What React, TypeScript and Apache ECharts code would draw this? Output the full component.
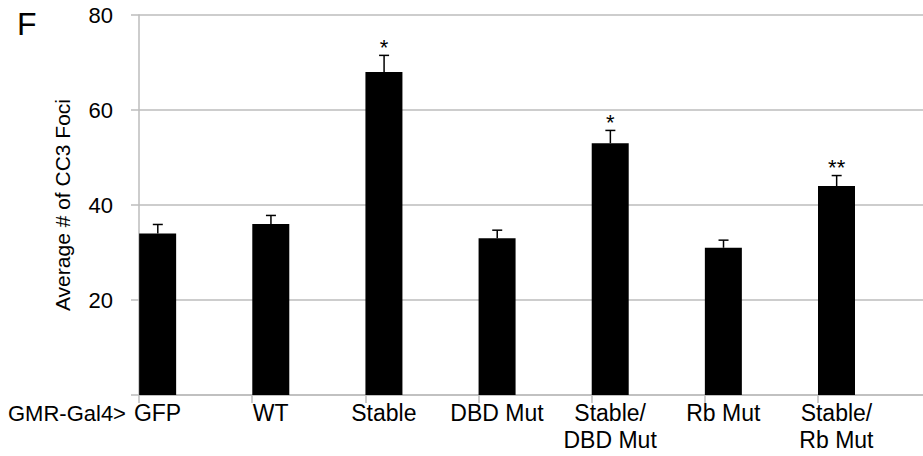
import React, { useEffect, useRef } from "react";
import * as echarts from "echarts";

const categories = ["GFP", "WT", "Stable", "DBD Mut", "Stable/\nDBD Mut", "Rb Mut", "Stable/\nRb Mut"];
const means = [34, 36, 68, 33, 53, 31, 44];
const errors = [1.9, 1.8, 3.5, 1.7, 2.7, 1.6, 2.2];
const stars = ["", "", "*", "", "*", "", "**"];
const yTicks = [0, 20, 40, 60, 80];

const FONT = "'Liberation Sans', Arial, Helvetica, sans-serif";
const GRID_COLOR = "#bcbcbc";
const BAR_W = 37;

export default function App() {
  const ref = useRef<HTMLDivElement>(null);
  useEffect(() => {
    if (!ref.current) return;
    const chart = echarts.init(ref.current, undefined, { renderer: "svg" });
    chart.setOption({
      animation: false,
      backgroundColor: "#ffffff",
      textStyle: { fontFamily: FONT, color: "#000" },
      grid: { left: 139, right: 0, top: 15, bottom: 61, containLabel: false, outerBoundsMode: "none" },
      graphic: [
        { type: "text", left: 17, top: 8, style: { text: "F", font: `32px ${FONT}`, fill: "#000" } },
        { type: "text", left: 8, top: 402, style: { text: "GMR-Gal4>", font: `22px ${FONT}`, fill: "#000" } },
      ],
      xAxis: {
        type: "category",
        data: categories,
        boundaryGap: true,
        axisLine: { show: true, lineStyle: { color: GRID_COLOR, width: 1.5 } },
        axisTick: { show: true, length: 8, interval: 0, alignWithLabel: false, lineStyle: { color: GRID_COLOR, width: 1.5 } },
        axisLabel: {
          interval: 0,
          color: "#000",
          fontFamily: FONT,
          fontSize: 23,
          lineHeight: 27,
          margin: 4,
          padding: [0, 76, 0, 0],
          align: "center",
        },
        splitLine: { show: false },
      },
      yAxis: {
        type: "value",
        min: yTicks[0],
        max: yTicks[yTicks.length - 1],
        interval: 20,
        name: "Average # of CC3 Foci",
        nameLocation: "middle",
        nameGap: 66,
        nameRotate: 90,
        nameTextStyle: { color: "#000", fontFamily: FONT, fontSize: 21 },
        axisLine: { show: true, lineStyle: { color: GRID_COLOR, width: 1.5 } },
        axisTick: { show: true, length: 8, lineStyle: { color: GRID_COLOR, width: 1.5 } },
        axisLabel: {
          color: "#000",
          fontFamily: FONT,
          fontSize: 22,
          margin: 26,
          formatter: (v: number) => (v === 0 ? "" : String(v)),
        },
        splitLine: { show: true, lineStyle: { color: GRID_COLOR, width: 1.5 } },
      },
      series: [
        {
          type: "bar",
          data: means,
          barWidth: BAR_W,
          barGap: "105%",
          itemStyle: { color: "#000" },
        },
        {
          type: "bar",
          data: means.map(() => "-"),
          barWidth: BAR_W,
          silent: true,
          itemStyle: { color: "transparent" },
        },
        {
          type: "custom",
          data: means.map((m, i) => [i, m, errors[i]]),
          encode: { x: 0, y: 1 },
          z: 5,
          renderItem: (params: any, api: any) => {
            const i = api.value(0);
            const v = api.value(1);
            const e = api.value(2);
            const base = api.coord([i, v]);
            const top = api.coord([i, v + e]);
            const band = api.size([1, 0])[0];
            const x = base[0] - band / 2 + BAR_W / 2 + 0.3;
            const children: any[] = [
              { type: "line", shape: { x1: x, y1: base[1], x2: x, y2: top[1] }, style: { stroke: "#000", lineWidth: 1.5 } },
              { type: "line", shape: { x1: x - 5, y1: top[1], x2: x + 5, y2: top[1] }, style: { stroke: "#000", lineWidth: 1.5 } },
            ];
            const s = stars[params.dataIndex];
            if (s) {
              children.push({
                type: "text",
                x: x,
                y: top[1] - 8,
                style: { text: s, font: `22px ${FONT}`, fill: "#000", align: "center", verticalAlign: "middle" },
              });
            }
            return { type: "group", children };
          },
        },
      ],
    });
    return () => chart.dispose();
  }, []);
  return (
    <div style={{ position: "absolute", left: 0, top: 0, width: 923, height: 456, overflow: "hidden", background: "#fff" }}>
      <div ref={ref} style={{ width: 931, height: 456 }} />
    </div>
  );
}
